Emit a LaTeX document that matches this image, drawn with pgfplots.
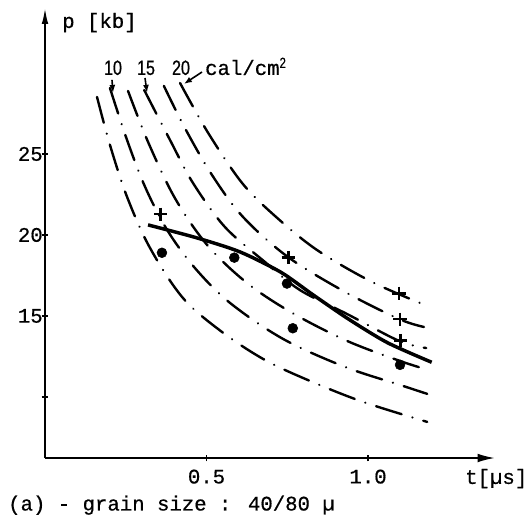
\documentclass[border=0pt]{standalone}
\usepackage{fontspec}
\setmainfont{Liberation Mono}
\newfontfamily\tw[FakeBold=0.6]{Liberation Mono}
\newfontfamily\nar[FakeStretch=0.78,FakeBold=0.6]{Liberation Sans}
\usepackage{pgfplots}
\pgfplotsset{compat=1.18}
\usetikzlibrary{arrows.meta}
\newcommand\twf{\tw\fontsize{15.5}{18}\selectfont}
\newcommand\narf{\nar\fontsize{15.5}{18}\selectfont}
\pgfplotsset{cur/.style={black, line width=1.8pt, line cap=round, smooth, tension=0.55,
  dash pattern=on 20pt off 8.5pt on 0.01pt off 8.5pt, no markers}}
\begin{document}
\begin{tikzpicture}
\begin{axis}[
  scale only axis, width=337.5pt, height=337.5pt,
  xmin=0, xmax=1.393, ymin=6.23, ymax=34.01,
  axis x line=bottom, axis y line=left,
  axis line style={line width=1.4pt},
  x axis line style={-{Latex[length=13pt,width=6.5pt]}},
  y axis line style={-{Latex[length=12pt,width=5pt]}},
  xtick={0.5,1.0}, xticklabels={0.5,1.0},
  ytick={10,15,20,25}, yticklabels={,15,20,25},
  tick align=center, major tick length=5pt,
  tick style={line width=1.2pt, black},
  ticklabel style={font=\twf},
  xticklabel style={inner sep=0pt, yshift=-6pt},
  yticklabel style={inner sep=0pt, xshift=1pt},
  clip=false,
]
% energy curves 10 ... 20 cal/cm^2 (dash-dot)
\addplot[cur] coordinates {(0.161,28.52)(0.201,25.56)(0.254,22.35)(0.325,19.20)(0.427,16.11)(0.548,14.01)(0.681,12.28)(0.820,10.99)(0.985,9.69)(1.183,8.46)};
\addplot[cur] coordinates {(0.201,29.07)(0.254,25.86)(0.310,22.96)(0.378,20.31)(0.464,17.96)(0.573,15.80)(0.737,13.58)(0.929,11.85)(1.099,10.74)(1.183,10.19)};
\addplot[cur] coordinates {(0.257,28.89)(0.319,25.74)(0.402,22.28)(0.502,19.38)(0.625,17.04)(0.765,15.19)(0.935,13.46)(1.099,12.22)(1.186,11.67)};
\addplot[cur] coordinates {(0.307,28.95)(0.387,25.86)(0.458,23.21)(0.557,20.49)(0.681,18.33)(0.789,16.60)(0.935,15.12)(1.096,13.46)(1.180,13.02)};
\addplot[cur] coordinates {(0.368,29.20)(0.433,26.60)(0.517,23.70)(0.613,21.11)(0.752,18.64)(0.929,16.48)(1.096,14.81)(1.173,14.32)};
\addplot[cur] coordinates {(0.418,29.38)(0.505,26.30)(0.610,23.21)(0.712,21.17)(0.842,19.07)(1.012,17.10)(1.176,15.68)};
% solid fitted curve
\addplot[black, line width=2.6pt, smooth, tension=0.45, no markers] coordinates {(0.319,20.62)(0.470,19.82)(0.604,18.95)(0.730,17.70)(0.830,16.30)(0.940,14.80)(1.060,13.35)(1.197,12.14)};
% data points
\addplot[only marks, mark=+, mark size=5pt, mark options={line width=1.9pt}] coordinates {(0.358,21.28)(0.753,18.6)(1.096,16.4)(1.099,14.8)(1.101,13.48)};
\addplot[only marks, mark=*, mark size=3.7pt] coordinates {(0.362,18.9)(0.586,18.6)(0.749,17.0)(0.767,14.24)(1.099,11.98)};
% labels
\node[anchor=base west, font=\twf, inner sep=0] at (axis cs:0.0526,32.78) {p [kb]};
\node[anchor=base west, font=\twf, inner sep=0] at (axis cs:1.300,4.63) {t[µs]};
\node[anchor=base west, font=\twf, inner sep=0] at (axis cs:-0.1146,2.99) {(a) - grain size : 40/80 µ};
\node[anchor=base, font=\narf, inner sep=0] at (axis cs:0.2105,29.88) {10};
\node[anchor=base, font=\narf, inner sep=0] at (axis cs:0.3127,29.88) {15};
\node[anchor=base, font=\narf, inner sep=0] at (axis cs:0.421,29.88) {20};
\node[anchor=base west, font=\twf, inner sep=0] at (axis cs:0.495,29.88) {cal/cm\textsuperscript{\narf\fontsize{11}{12}\selectfont 2}};
\draw[-{Latex[length=6pt,width=4.5pt]}, line width=1.2pt] (axis cs:0.2074,29.57) -- (axis cs:0.2105,28.77);
\draw[-{Latex[length=6pt,width=4.5pt]}, line width=1.2pt] (axis cs:0.3096,29.69) -- (axis cs:0.3158,28.77);
\draw[-{Latex[length=6pt,width=4.5pt]}, line width=1.2pt] (axis cs:0.486,30.06) -- (axis cs:0.430,29.32);
\end{axis}
\pgfresetboundingbox
\path (-33.75pt,-45.75pt) rectangle (363.75pt,343.5pt);
\end{tikzpicture}
\end{document}
